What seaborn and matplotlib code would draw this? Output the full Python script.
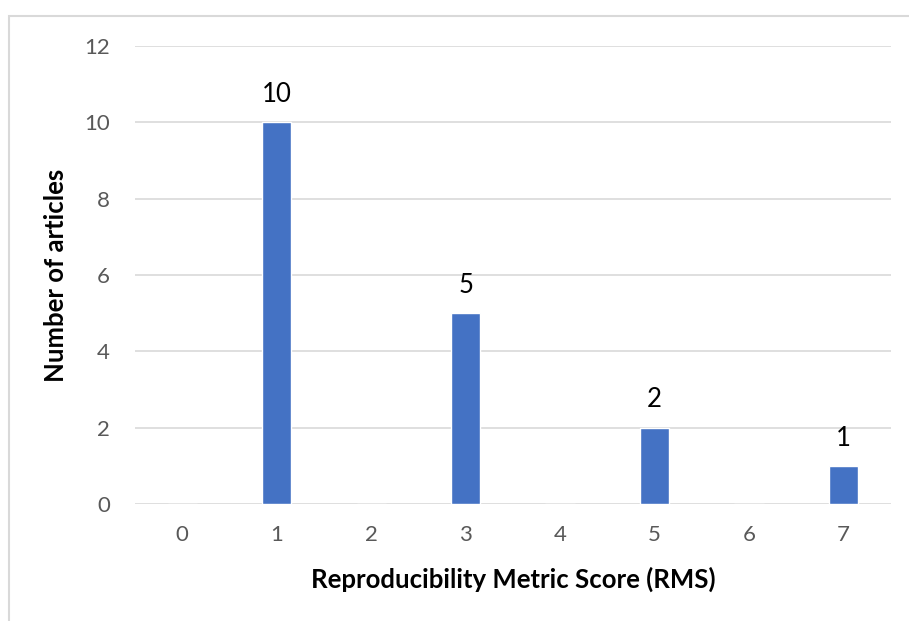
import matplotlib
matplotlib.use("Agg")
import matplotlib.pyplot as plt
import seaborn as sns
import pandas as pd
from matplotlib.patches import Rectangle

# RMS score categories and article counts
scores = ["0", "1", "2", "3", "4", "5", "6", "7"]
articles = [0, 10, 0, 5, 0, 2, 0, 1]
y_ticks = [0, 2, 4, 6, 8, 10, 12]

df = pd.DataFrame({"score": scores, "articles": articles})

sns.set_theme(style="white")
plt.rcParams["font.family"] = ["Lato", "DejaVu Sans"]

fig = plt.figure(figsize=(9.09, 6.21), dpi=100)
ax = fig.add_axes([0.1485, 0.1884, 0.8315, 0.7375])

sns.barplot(data=df, x="score", y="articles", color="#4472C4",
            saturation=1, width=0.31, ax=ax, zorder=3)

ax.set_ylim(0, 12)
ax.set_yticks(y_ticks)
ax.set_xlim(-0.5, len(scores) - 0.5)
ax.yaxis.grid(True, color="#D9D9D9", linewidth=1.2, zorder=0)
ax.xaxis.grid(False)
for s in ax.spines.values():
    s.set_visible(False)
ax.tick_params(axis="both", length=0, labelsize=16, colors="#595959")
ax.tick_params(axis="x", pad=15)
ax.tick_params(axis="y", pad=18)

for i, v in enumerate(articles):
    if v > 0:
        ax.annotate(str(v), (i, v), xytext=(0, 11), textcoords="offset points",
                    ha="center", va="bottom", fontsize=18.5, color="black")

ax.set_xlabel("Reproducibility Metric Score (RMS)", fontsize=18.5,
              fontweight="bold", color="black", labelpad=16)
ax.set_ylabel("Number of articles", fontsize=18.5, fontweight="bold",
              color="black", labelpad=12)

# light frame around the chart area (left and top edges visible)
fig.patches.append(Rectangle((9 / 909, -0.1), 1.2, 1 - 16 / 621 + 0.1,
                             transform=fig.transFigure, fill=False,
                             edgecolor="#D9D9D9", linewidth=1.5))

fig.savefig("out.png", dpi=100)
